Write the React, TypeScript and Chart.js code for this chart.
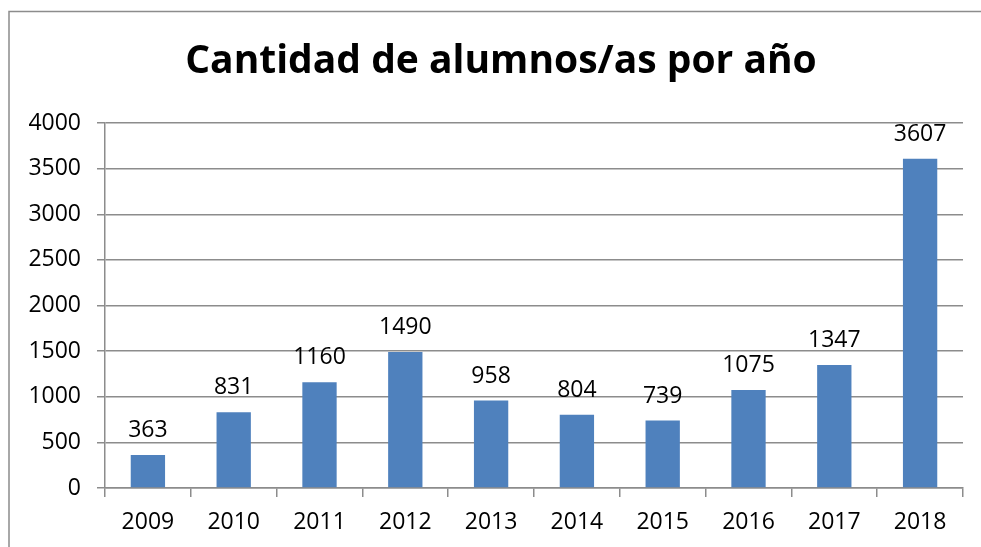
import React, { useEffect, useRef } from "react";
import { Chart, registerables } from "chart.js";

Chart.register(...registerables);

const categories = ["2009", "2010", "2011", "2012", "2013", "2014", "2015", "2016", "2017", "2018"];
const values = [363, 831, 1160, 1490, 958, 804, 739, 1075, 1347, 3607];
const yMin = 0;
const yMax = 4000;
const yStep = 500;
const titleText = "Cantidad de alumnos/as por año";

const FONT = "'Open Sans', 'Noto Sans', sans-serif";
const GRID = "#8c8c8c";

export default function App() {
  const ref = useRef<HTMLCanvasElement | null>(null);

  useEffect(() => {
    const canvas = ref.current;
    if (!canvas) return;

    const framePlugin = {
      id: "frame",
      beforeDraw(chart: any) {
        const ctx = chart.ctx;
        ctx.save();
        ctx.fillStyle = "#ffffff";
        ctx.fillRect(0, 0, chart.width, chart.height);
        ctx.strokeStyle = GRID;
        ctx.lineWidth = 1.5;
        ctx.beginPath();
        ctx.moveTo(9, chart.height);
        ctx.lineTo(9, 11.5);
        ctx.lineTo(chart.width, 11.5);
        ctx.stroke();
        ctx.fillStyle = "#000000";
        ctx.font = `bold 39px ${FONT}`;
        ctx.textAlign = "center";
        ctx.textBaseline = "alphabetic";
        ctx.fillText(titleText, 501, 73);
        ctx.restore();
      },
    };

    const labelPlugin = {
      id: "barLabels",
      afterDatasetsDraw(chart: any) {
        const ctx = chart.ctx;
        const meta = chart.getDatasetMeta(0);
        ctx.save();
        ctx.fillStyle = "#000000";
        ctx.font = `23px ${FONT}`;
        ctx.textAlign = "center";
        ctx.textBaseline = "alphabetic";
        meta.data.forEach((bar: any, i: number) => {
          ctx.fillText(String(values[i]), bar.x, bar.y - 18);
        });
        ctx.restore();
      },
    };

    const chart = new Chart(canvas, {
      type: "bar",
      data: {
        labels: categories,
        datasets: [
          {
            data: values,
            backgroundColor: "#4F81BD",
            borderWidth: 0,
            barPercentage: 0.4,
            categoryPercentage: 1,
          },
        ],
      },
      options: {
        animation: false,
        responsive: false,
        maintainAspectRatio: false,
        layout: { padding: { top: 123, right: 18, bottom: 0, left: 0 } },
        plugins: {
          legend: { display: false },
          title: { display: false },
          tooltip: { enabled: false },
        },
        scales: {
          x: {
            grid: {
              drawOnChartArea: false,
              drawTicks: true,
              tickLength: 9,
              color: GRID,
              lineWidth: 1.5,
              offset: true,
            },
            border: { display: true, color: GRID, width: 1.5 },
            ticks: {
              color: "#000000",
              font: { family: FONT, size: 23 },
              padding: 12,
              maxRotation: 0,
            },
            afterFit(scale: any) {
              scale.height = 547 - 488;
            },
          },
          y: {
            min: yMin,
            max: yMax,
            grid: {
              color: GRID,
              lineWidth: 1.5,
              tickLength: 8,
              drawTicks: true,
            },
            border: { display: true, color: GRID, width: 1.5 },
            ticks: {
              stepSize: yStep,
              color: "#000000",
              font: { family: FONT, size: 23 },
              padding: 16,
              callback: (v: any) => String(v),
            },
            afterFit(scale: any) {
              scale.width = 105;
            },
          },
        },
      },
      plugins: [framePlugin, labelPlugin],
    });

    return () => chart.destroy();
  }, []);

  return (
    <div style={{ position: "fixed", left: 0, top: 0, width: 981, height: 547 }}>
      <canvas ref={ref} width={981} height={547} style={{ display: "block", width: 981, height: 547 }} />
    </div>
  );
}
